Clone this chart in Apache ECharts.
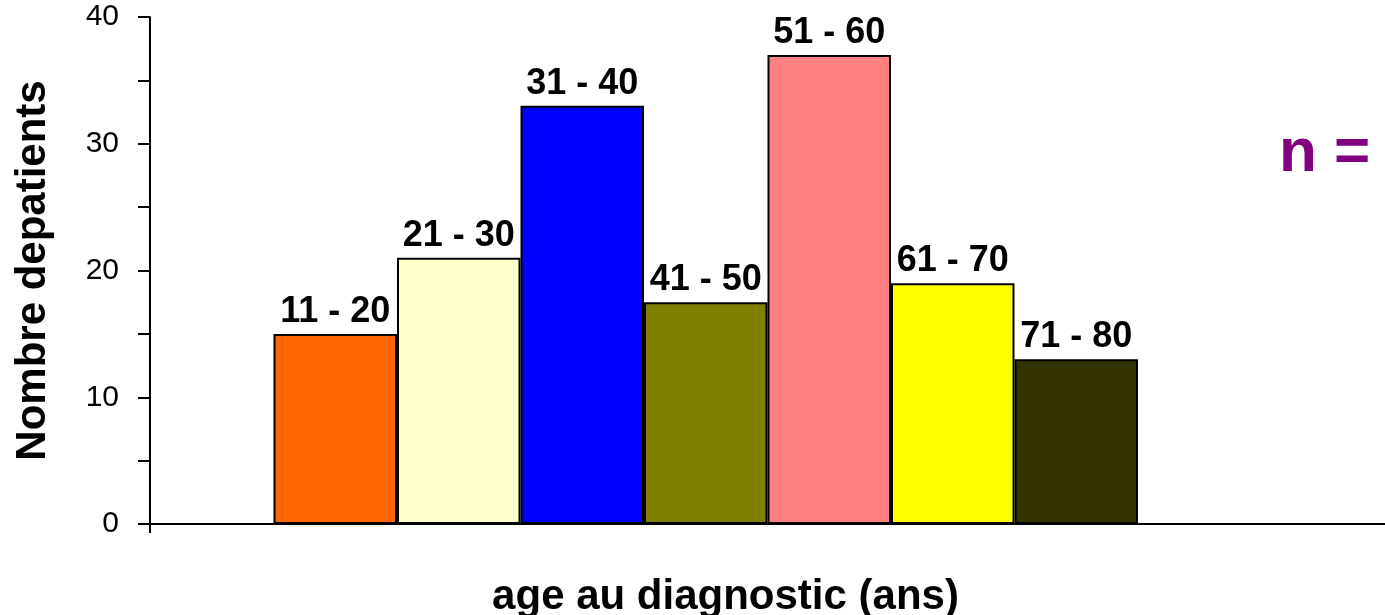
<!DOCTYPE html>
<html>
<head>
<meta charset="utf-8">
<script src="https://cdn.jsdelivr.net/npm/echarts@6/dist/echarts.min.js"></script>
<style>html,body{margin:0;padding:0;background:#fff}#c{width:1385px;height:615px}</style>
</head>
<body>
<div id="c"></div>
<script>
// Categories (first and last two are empty slots on the axis)
const categories = ['', '11 - 20', '21 - 30', '31 - 40', '41 - 50', '51 - 60', '61 - 70', '71 - 80', '', ''];
const values = [null, 15, 21, 33, 17.5, 37, 19, 13, null, null];
const barColors = ['#FFFFFF', '#FF6600', '#FFFFCC', '#0000FF', '#808000', '#FF8080', '#FFFF00', '#333300', '#FFFFFF', '#FFFFFF'];
const yTicks = [0, 10, 20, 30, 40];

const chart = echarts.init(document.getElementById('c'));
const FONT = '"Liberation Sans", Arial, sans-serif';
chart.setOption({
  animation: false,
  backgroundColor: '#fff',
  grid: { left: 150, right: 0, top: 17, bottom: 91, containLabel: false, outerBoundsMode: 'none' },
  xAxis: [{
    type: 'category',
    data: categories,
    boundaryGap: true,
    name: 'age au diagnostic (ans)',
    nameLocation: 'middle',
    nameGap: 52,
    nameTextStyle: { fontFamily: FONT, fontWeight: 'bold', fontSize: 42, color: '#000', padding: [0, 84, 0, 0] },
    axisLine: { lineStyle: { color: '#000', width: 2 } },
    axisTick: { show: false },
    axisLabel: { show: false },
    splitLine: { show: false }
  }, {
    type: 'value',
    position: 'bottom',
    min: 0,
    max: 10,
    axisLine: { show: false },
    axisTick: { show: true, customValues: [0], length: 9, lineStyle: { color: '#000', width: 2 } },
    axisLabel: { show: false },
    splitLine: { show: false }
  }],
  yAxis: {
    type: 'value',
    min: yTicks[0],
    max: yTicks[yTicks.length - 1],
    interval: 10,
    name: 'Nombre depatients',
    nameLocation: 'middle',
    nameGap: 96,
    nameRotate: 90,
    nameTextStyle: { fontFamily: FONT, fontWeight: 'bold', fontSize: 42, color: '#000' },
    axisLine: { show: true, lineStyle: { color: '#000', width: 2 } },
    axisTick: { show: true, length: 12, lineStyle: { color: '#000', width: 2 } },
    minorTick: { show: true, splitNumber: 2, length: 12, lineStyle: { color: '#000', width: 2 } },
    axisLabel: { fontFamily: FONT, fontSize: 30, color: '#000', margin: 31 },
    splitLine: { show: false }
  },
  series: [{
    type: 'bar',
    xAxisIndex: 0,
    data: values.map((v, i) => ({ value: v, itemStyle: { color: barColors[i] } })),
    barWidth: '100%',
    barCategoryGap: '0%',
    itemStyle: { borderColor: '#000', borderWidth: 2 },
    label: {
      show: true,
      position: 'top',
      distance: 4,
      formatter: (p) => p.name,
      fontFamily: FONT, fontWeight: 'bold', fontSize: 36, color: '#000'
    }
  }],
  graphic: [{
    type: 'text',
    left: 1279,
    top: 123,
    style: { text: 'n =', fontFamily: FONT, fontWeight: 'bold', fontSize: 62, fill: '#800080' }
  }]
});
</script>
</body>
</html>
